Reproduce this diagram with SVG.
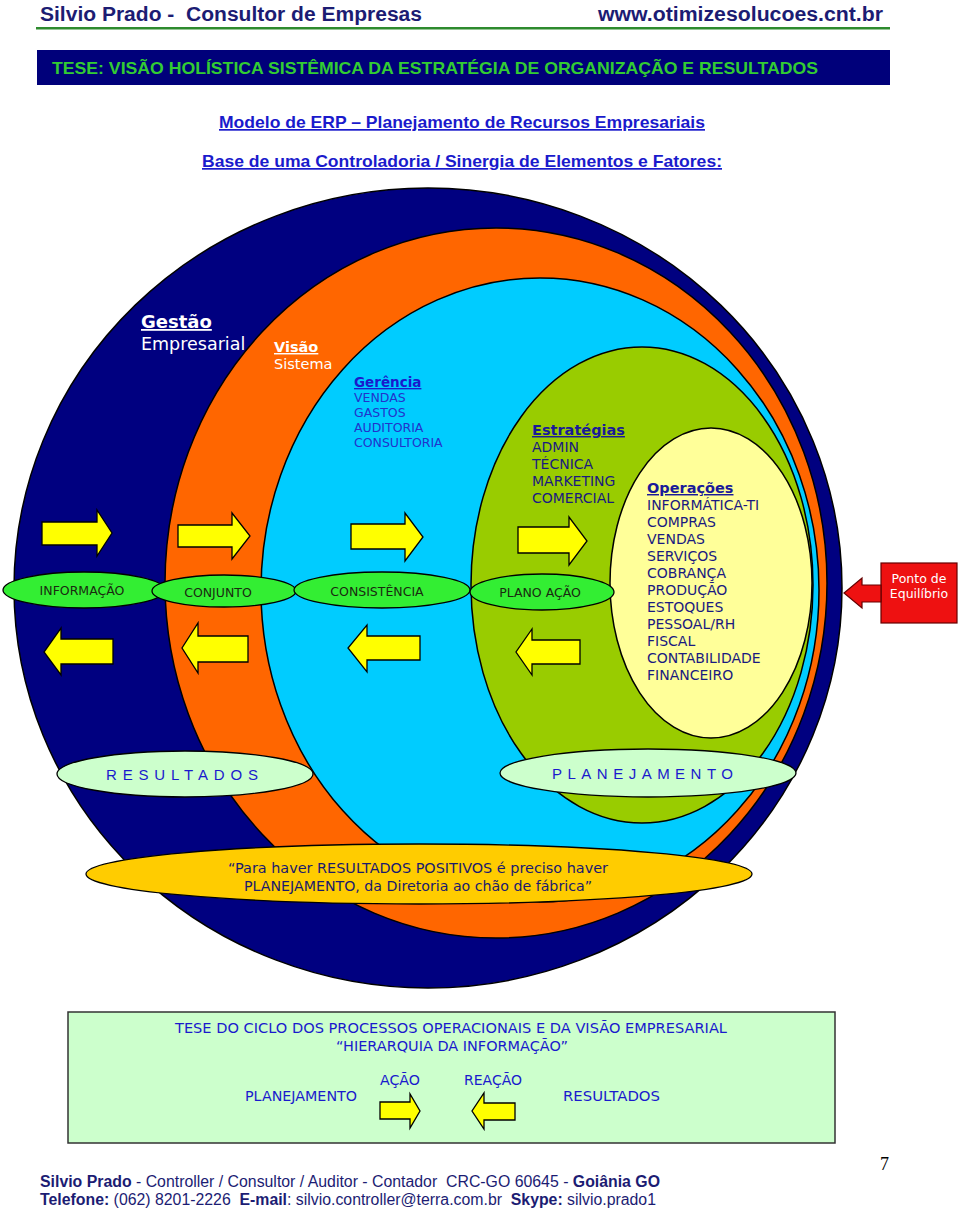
<svg xmlns="http://www.w3.org/2000/svg" width="960" height="1210" viewBox="0 0 960 1210">
<style>
.hdr{font-family:"Liberation Sans",Arial,sans-serif;font-weight:bold;fill:#1c1c73}
.ban{font-family:"Liberation Sans",Arial,sans-serif;font-weight:bold;fill:#33cc33;font-size:17px}
.sub{font-family:"Liberation Sans",Arial,sans-serif;font-weight:bold;fill:#1a1acc;font-size:17px;text-decoration:underline}
.ring{stroke:#000;stroke-width:1.5}
.v{font-family:"DejaVu Sans",Verdana,sans-serif}
.w{fill:#ffffff}
.u{text-decoration:underline;font-weight:bold}
.ger{fill:#2233cc;font-size:12.5px}
.nav{fill:#1a1a80;font-size:14px}
.arr{fill:#ffff00;stroke:#000;stroke-width:1.3}
.lab{fill:#33ee33;stroke:#000;stroke-width:1.3}
.labt{font-family:"DejaVu Sans",Verdana,sans-serif;font-size:12.5px;fill:#1a2a10;text-anchor:middle}
.pale{fill:#ccffcc;stroke:#000;stroke-width:1.3}
.spc{font-family:"Liberation Sans",Arial,sans-serif;font-size:15px;fill:#1a1acc;letter-spacing:7px}
.q{font-family:"DejaVu Sans",Verdana,sans-serif;font-size:14px;fill:#1a1a6e;text-anchor:middle}
.bx{font-family:"DejaVu Sans",Verdana,sans-serif;font-size:14px;fill:#1a1acc}
.ft{font-family:"Liberation Sans",Arial,sans-serif;font-size:16px;fill:#1c1c73}
.b{font-weight:bold}
</style>

<g id="header">
<text class="hdr" x="40" y="21" font-size="20" textLength="382" lengthAdjust="spacingAndGlyphs" xml:space="preserve">Silvio Prado -  Consultor de Empresas</text>
<text class="hdr" x="598" y="21" font-size="20" textLength="285" lengthAdjust="spacingAndGlyphs">www.otimizesolucoes.cnt.br</text>
<rect x="36" y="27" width="854" height="2.5" fill="#2e8b2e"/>
</g>

<g id="banner">
<rect x="37" y="50" width="853" height="35" fill="#00007a"/>
<text class="ban" x="52" y="74" textLength="766" lengthAdjust="spacingAndGlyphs">TESE: VISÃO HOLÍSTICA SISTÊMICA DA ESTRATÉGIA DE ORGANIZAÇÃO E RESULTADOS</text>
</g>

<g id="subtitles">
<text class="sub" x="219" y="128" textLength="486" lengthAdjust="spacingAndGlyphs">Modelo de ERP – Planejamento de Recursos Empresariais</text>
<text class="sub" x="202" y="167" textLength="520" lengthAdjust="spacingAndGlyphs">Base de uma Controladoria / Sinergia de Elementos e Fatores:</text>
</g>

<g id="ring-gestao">
<ellipse class="ring" cx="428" cy="588" rx="414" ry="400" fill="#000080"/>
<text class="v w u" x="141" y="328" font-size="18">Gestão</text>
<text class="v w" x="141" y="350" font-size="17.5">Empresarial</text>
</g>
<g id="ring-visao">
<ellipse class="ring" cx="496" cy="583" rx="331" ry="355" fill="#ff6600"/>
<text class="v w u" x="274" y="352" font-size="14.5">Visão</text>
<text class="v w" x="274" y="369" font-size="14.5">Sistema</text>
</g>
<g id="ring-gerencia">
<ellipse class="ring" cx="540" cy="590" rx="279" ry="312" fill="#00ccff"/>
<text class="v u" x="354" y="387" font-size="13.5" fill="#1a1acc">Gerência</text>
<text class="v ger" x="354" y="402">VENDAS</text>
<text class="v ger" x="354" y="417">GASTOS</text>
<text class="v ger" x="354" y="432">AUDITORIA</text>
<text class="v ger" x="354" y="447">CONSULTORIA</text>
</g>
<g id="ring-estrategias">
<ellipse class="ring" cx="642" cy="585" rx="171" ry="238" fill="#99cc00"/>
<text class="v u" x="532" y="435" font-size="14.5" fill="#1a1a99">Estratégias</text>
<text class="v nav" x="532" y="452">ADMIN</text>
<text class="v nav" x="532" y="469">TÉCNICA</text>
<text class="v nav" x="532" y="486">MARKETING</text>
<text class="v nav" x="532" y="503">COMERCIAL</text>
</g>
<g id="ring-operacoes">
<ellipse class="ring" cx="711" cy="583" rx="101" ry="155" fill="#ffff99"/>
<text class="v u" x="647" y="493" font-size="14.5" fill="#1a1a99">Operações</text>
<text class="v nav" x="647" y="510">INFORMÁTICA-TI</text>
<text class="v nav" x="647" y="527">COMPRAS</text>
<text class="v nav" x="647" y="544">VENDAS</text>
<text class="v nav" x="647" y="561">SERVIÇOS</text>
<text class="v nav" x="647" y="578">COBRANÇA</text>
<text class="v nav" x="647" y="595">PRODUÇÃO</text>
<text class="v nav" x="647" y="612">ESTOQUES</text>
<text class="v nav" x="647" y="629">PESSOAL/RH</text>
<text class="v nav" x="647" y="646">FISCAL</text>
<text class="v nav" x="647" y="663">CONTABILIDADE</text>
<text class="v nav" x="647" y="680">FINANCEIRO</text>
</g>

<g id="informacao">
<ellipse class="lab" cx="84" cy="590" rx="81" ry="18"/>
<text class="labt" x="82" y="595">INFORMAÇÃO</text>
</g>
<g id="conjunto">
<ellipse class="lab" cx="224" cy="591" rx="72" ry="16"/>
<text class="labt" x="218" y="597">CONJUNTO</text>
</g>
<g id="consistencia">
<ellipse class="lab" cx="382" cy="590" rx="88" ry="18"/>
<text class="labt" x="377" y="596">CONSISTÊNCIA</text>
</g>
<g id="plano-acao">
<ellipse class="lab" cx="542" cy="592" rx="72" ry="18"/>
<text class="labt" x="540" y="597">PLANO AÇÃO</text>
</g>

<g id="resultados">
<ellipse class="pale" cx="185" cy="774" rx="128" ry="23"/>
<text class="spc" x="106" y="780" textLength="159" lengthAdjust="spacing">RESULTADOS</text>
</g>
<g id="planejamento">
<ellipse class="pale" cx="648" cy="773" rx="148" ry="24"/>
<text class="spc" x="552" y="779" textLength="188" lengthAdjust="spacing">PLANEJAMENTO</text>
</g>

<g id="citacao">
<ellipse cx="419" cy="874" rx="333" ry="30" fill="#ffcc00" stroke="#000" stroke-width="1.3"/>
<text class="q" x="418" y="873" textLength="380" lengthAdjust="spacingAndGlyphs">“Para haver RESULTADOS POSITIVOS é preciso haver</text>
<text class="q" x="418" y="891" textLength="348" lengthAdjust="spacingAndGlyphs">PLANEJAMENTO, da Diretoria ao chão de fábrica”</text>
</g>

<g id="ponto-equilibrio">
<rect x="881" y="563" width="76" height="60" fill="#ee1111" stroke="#660000" stroke-width="1.2"/>
<text class="v" x="919" y="583" font-size="12.5" fill="#ffffff" text-anchor="middle">Ponto de</text>
<text class="v" x="919" y="598" font-size="12.5" fill="#ffffff" text-anchor="middle">Equilíbrio</text>
</g>

<g id="tese-ciclo">
<rect x="68" y="1012" width="767" height="131" fill="#ccffcc" stroke="#333" stroke-width="1.5"/>
<text class="bx" x="175" y="1033" textLength="552" lengthAdjust="spacingAndGlyphs">TESE DO CICLO DOS PROCESSOS OPERACIONAIS E DA VISÃO EMPRESARIAL</text>
<text class="bx" x="336" y="1051" textLength="232" lengthAdjust="spacingAndGlyphs">“HIERARQUIA DA INFORMAÇÃO”</text>
<text class="bx" x="380" y="1085" textLength="40" lengthAdjust="spacingAndGlyphs">AÇÃO</text>
<text class="bx" x="464" y="1085" textLength="58" lengthAdjust="spacingAndGlyphs">REAÇÃO</text>
<text class="bx" x="245" y="1101" textLength="112" lengthAdjust="spacingAndGlyphs">PLANEJAMENTO</text>
<text class="bx" x="563" y="1101" textLength="97" lengthAdjust="spacingAndGlyphs">RESULTADOS</text>
</g>

<g id="footer">
<text x="880" y="1170" font-family="'Liberation Serif','Times New Roman',serif" font-size="18" fill="#000">7</text>
<text class="ft" x="40" y="1187" textLength="620" lengthAdjust="spacingAndGlyphs" xml:space="preserve"><tspan class="b">Silvio Prado</tspan> - Controller / Consultor / Auditor - Contador  CRC-GO 60645 - <tspan class="b">Goiânia GO</tspan></text>
<text class="ft" x="40" y="1205" textLength="616" lengthAdjust="spacingAndGlyphs" xml:space="preserve"><tspan class="b">Telefone:</tspan> (062) 8201-2226  <tspan class="b">E-mail</tspan>: silvio.controller@terra.com.br  <tspan class="b">Skype:</tspan> silvio.prado1</text>
</g>

<g id="connectors">
<polygon class="arr" points="42,522 97,522 97,510 112,533 97,556 97,545 42,545"/>
<polygon class="arr" points="178,525 232,525 232,513 250,536 232,559 232,547 178,547"/>
<polygon class="arr" points="351,524 405,524 405,513 423,537 405,561 405,549 351,549"/>
<polygon class="arr" points="518,527 569,527 569,517 587,541 569,565 569,553 518,553"/>
<polygon class="arr" points="113,639 61,639 61,628 44,652 61,675 61,664 113,664"/>
<polygon class="arr" points="248,636 198,636 198,623 182,648 198,673 198,662 248,662"/>
<polygon class="arr" points="420,636 367,636 367,625 348,648 367,672 367,660 420,660"/>
<polygon class="arr" points="580,640 532,640 532,629 516,652 532,675 532,664 580,664"/>
<polygon points="881,585 862,585 862,578 844,593 862,608 862,602 881,602" fill="#ee1111" stroke="#660000" stroke-width="1.2"/>
<polygon class="arr" points="380,1102 410,1102 410,1094 420,1111 410,1128 410,1119 380,1119"/>
<polygon class="arr" points="515,1103 484,1103 484,1093 472,1111 484,1129 484,1120 515,1120"/>
</g>
</svg>
